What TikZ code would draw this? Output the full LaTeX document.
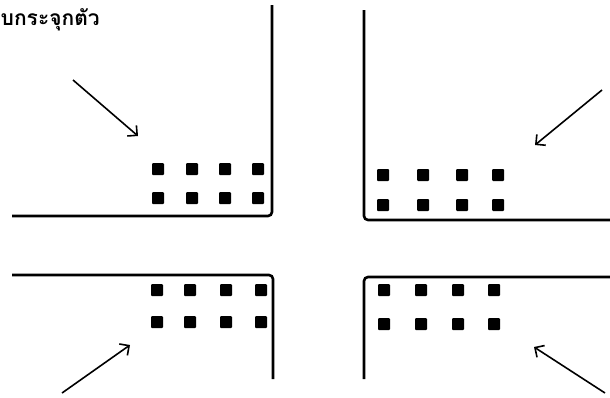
\documentclass[tikz,border=0pt]{standalone}
\usepackage{fontspec}
\newfontfamily\thaifont[Script=Thai]{Loma}
\usetikzlibrary{arrows.meta}
\begin{document}
\begin{tikzpicture}[x=1pt,y=-1pt,
  wall/.style={line width=2.6pt, rounded corners=4pt},
  dot/.style={fill=black, minimum size=12pt, inner sep=0pt, outer sep=0pt, draw=none, rectangle, rounded corners=1pt},
  flow/.style={line width=1.6pt, -{Straight Barb[length=7pt,width=14pt,line width=1.6pt]}},
  lbl/.style={anchor=base west, inner sep=0pt, font=\thaifont\bfseries\fontsize{21}{24}\selectfont}]
\useasboundingbox (0,0) rectangle (610,397);
% label
\node[lbl] (title) at (0.5,25) {บกระจุกตัว};
% walls
\draw[wall] (12,216) -| (272,5);
\draw[wall] (364,10) |- (610,220);
\draw[wall] (12,275) -| (273,379);
\draw[wall] (610,277) -| (364,379);
% top-left dots
\foreach \x [count=\i] in {158,192,225,258} {
  \node[dot] (tla\i) at (\x,169) {};
  \node[dot] (tlb\i) at (\x,198) {};
}
% top-right dots
\foreach \x [count=\i] in {383,423,462,498} {
  \node[dot] (tra\i) at (\x,175) {};
  \node[dot] (trb\i) at (\x,205) {};
}
% bottom-left dots
\foreach \x [count=\i] in {157,190,226,261} {
  \node[dot] (bla\i) at (\x,290) {};
  \node[dot] (blb\i) at (\x,322) {};
}
% bottom-right dots
\foreach \x [count=\i] in {384,421,458,494} {
  \node[dot] (bra\i) at (\x,290) {};
  \node[dot] (brb\i) at (\x,324) {};
}
% arrows
\coordinate (a1s) at (73,80);   \coordinate (a1e) at (138,136);
\coordinate (a2s) at (602,90);  \coordinate (a2e) at (535,145);
\coordinate (a3s) at (62,393);  \coordinate (a3e) at (130,345);
\coordinate (a4s) at (605,393); \coordinate (a4e) at (534,347);
\draw[flow] (a1s) -- (a1e);
\draw[flow] (a2s) -- (a2e);
\draw[flow] (a3s) -- (a3e);
\draw[flow] (a4s) -- (a4e);
\end{tikzpicture}
\end{document}
